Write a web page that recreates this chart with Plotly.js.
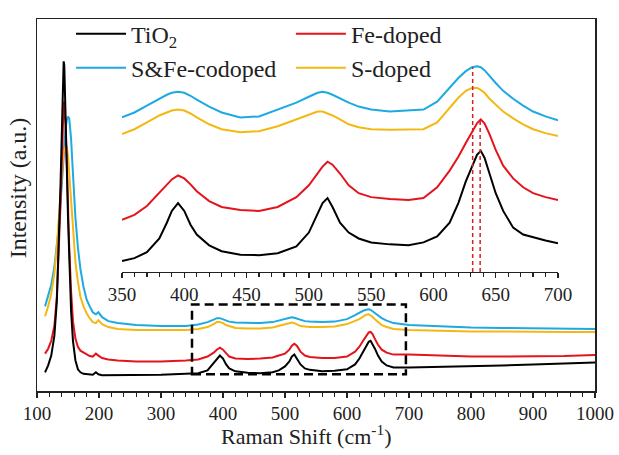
<!DOCTYPE html>
<html>
<head>
<meta charset="utf-8">
<script src="https://cdn.plot.ly/plotly-3.0.1.min.js"></script>
<style>html,body{margin:0;padding:0;background:#fff;}#chart{width:619px;height:455px;}</style>
</head>
<body>
<div id="chart"></div>
<script>
// ---- Main spectrum (arbitrary intensity units, offset stacked as in figure) ----
const ramanShift = [113,118,123,128,132,135,138,140,142,143,144,146,148,150,152,155,158,162,166,170,175,180,185,190,195,199,205,215,230,260,300,340,360,375,385,390,395,400,405,410,420,440,460,480,490,500,507,511,515,519,525,532,540,560,580,600,613,620,626,631,635,638,641,645,650,656,664,675,700,750,800,850,900,950,1000];
const tio2Main = [19,26,36,56,91,141,211,261,316,335,331,291,231,176,131,81,51,31,22,19,17.5,17,16.5,16.5,19,17,16,16,16,16,16.5,17.5,18,21,29,33,36,33,27,23,20,18.5,18,19,21,25,30,35,37,33,27,23,21.5,20,20.5,22,27,33,40,46,50,51,48,43,36,30,26,24,24,24.5,25,26,27,28,29];
const feMain = [38,43,51,66,96,136,191,231,276,294,293,271,231,186,146,101,71,53,45,41,39,37,35.5,35,38,36,33.5,32,31,30,30,31,32,35,39,42,44,42,38,35,33,32.5,33,34,36,38,42,46,48,46,40,36,34.5,33.5,33.5,35,40,45,51,56,59.5,60,58,53,47,42,39,37,37,36,35,35,35,35.5,36.5];
const sfeMain = [86,96,108,126,146,166,191,211,231,241,251,266,275,279,277,256,221,176,146,124,106,93,86,80,78,80,75,71,69,67,66,66,67.5,70,72.5,74,74,73,71.5,70.5,69.5,69,69,70,71.5,73,74.5,75,74.5,73.5,72,71,70.5,70,70.5,73,77,79.5,81.5,82.5,83,82.5,81,79,76.5,74,71.5,69,67,65.5,64.5,64,63.5,63.5,63];
const sMain = [76,86,99,119,146,176,206,224,238,243,245,248,248,239,221,191,161,131,111,96,86,79,74,70,69,72,68,65,63,62,62,62,63,65,68,70,70,69,67,66,64,63.5,63.5,64.5,66,67.5,69,69.5,69,68,66,65.5,65,65,65.5,68,71,73,75.5,77.5,78,77,75.5,73,70,67,65,63,62,61,60.5,60.5,60,60,60];

// ---- Inset (350-700 cm-1 zoom) ----
const insetShift = [350,360,370,380,386,390,395,400,405,410,420,430,445,460,475,490,500,507,511,515,519,525,532,540,550,565,580,592,603,613,620,626,631,635,638,641,645,650,656,664,672,680,690,700];
const tio2Inset = [11,14,20,34,50,62,70,62,48,38,27,21,17.5,17,19,26,40,58,70,75,66,50,40,34,30,28,27,30,36,50,70,92,108,119,123,116,100,80,62,45,38,35,32,29];
const feInset = [53,58,67,80,88,94,98,95,89,82,72,66,63,62,66,76,88,100,107,112,109,100,88,80,76,74,73,75,86,103,117,131,143,151,155,151,140,124,108,95,86,80,76,73];
const sfeInset = [157,162,169,176,180,182,183,182,179,175,168,162,157,158,165,172,178,182,183,182,180,176,172,168,165,163,164,165,173,187,197,204,208,209,208,205,199,192,184,176,169,163,158,154];
const sInset = [140,145,152,159,162,164,165,164,161,157,150,145,142,143,148,155,160,163,163,161,159,155,150,147,145,144.5,144.5,145,152,167,177,184,187,187,185,182,176,170,163,156,150,145,141,138];

// peak-shift guide lines (cm-1) and their tops (inset units)
const shiftLines = [631.5, 637.5];
const shiftTops = [208, 155];
// zoomed window marked on main plot
const boxX = [350, 695];
const boxY = [17, 88];

const names = ['TiO<sub>2</sub>', 'Fe-doped', 'S&Fe-codoped', 'S-doped'];
const colors = ['#000000', '#E3141C', '#1DA9E1', '#F4B813'];
const legendOf = ['legend', 'legend2', 'legend', 'legend2'];
const mainSeries = [tio2Main, feMain, sfeMain, sMain];
const insetSeries = [tio2Inset, feInset, sfeInset, sInset];
const drawOrder = [2, 3, 1, 0];

const FONT = 'Liberation Serif, Times New Roman, serif';
const traces = [];
drawOrder.forEach(i => {
  traces.push({x: ramanShift, y: mainSeries[i], type: 'scatter', mode: 'lines', name: names[i],
    line: {color: colors[i], width: 2}, xaxis: 'x', yaxis: 'y', legendrank: i + 1,
    legend: legendOf[i], legendgroup: 'g' + i});
});
drawOrder.forEach(i => {
  traces.push({x: insetShift, y: insetSeries[i], type: 'scatter', mode: 'lines', name: names[i],
    line: {color: colors[i], width: 2}, xaxis: 'x2', yaxis: 'y2', showlegend: false});
});

const shapes = [
  {type: 'rect', xref: 'x', yref: 'y', x0: boxX[0], x1: boxX[1], y0: boxY[0], y1: boxY[1],
   line: {color: '#000', width: 2.5, dash: '9px,5px'}, fillcolor: 'rgba(0,0,0,0)'}
];
shiftLines.forEach((v, k) => shapes.push({type: 'line', xref: 'x2', yref: 'y2', x0: v, x1: v, y0: 0, y1: shiftTops[k],
  line: {color: '#D42020', width: 1.5, dash: '4px,3px'}}));

const axisCommon = {showgrid: false, zeroline: false, linecolor: '#222', linewidth: 1.5,
  tickcolor: '#222', tickfont: {family: FONT, size: 19, color: '#222'}};
const legendCommon = {orientation: 'v', yanchor: 'top', xanchor: 'left', y: 1.02, tracegroupgap: 0,
  itemwidth: 50, font: {family: FONT, size: 24, color: '#222'}, bgcolor: 'rgba(0,0,0,0)'};

const layout = {
  width: 619, height: 455,
  margin: {l: 37, r: 24, t: 13, b: 64},
  paper_bgcolor: '#fff', plot_bgcolor: 'rgba(0,0,0,0)',
  font: {family: FONT, color: '#222'},
  showlegend: true,
  legend: Object.assign({}, legendCommon, {x: 0.061}),
  legend2: Object.assign({}, legendCommon, {x: 0.455}),
  xaxis: Object.assign({}, axisCommon, {domain: [0, 1], anchor: 'y', range: [100, 1000], mirror: true, showline: true,
    ticks: 'outside', ticklen: 5, tickwidth: 1.5, tick0: 100, dtick: 100,
    minor: {dtick: 20, tick0: 100, ticks: 'outside', ticklen: 4, tickwidth: 1.2, tickcolor: '#222'}}),
  yaxis: Object.assign({}, axisCommon, {domain: [0, 1], anchor: 'x', range: [0, 378], mirror: true, showline: true,
    ticks: '', showticklabels: false}),
  xaxis2: Object.assign({}, axisCommon, {domain: [0.1523, 0.9337], anchor: 'y2', range: [350, 700], showline: true,
    ticks: 'outside', ticklen: 5, tickwidth: 1.5, tick0: 350, dtick: 50,
    minor: {dtick: 10, tick0: 350, ticks: 'outside', ticklen: 4, tickwidth: 1.2, tickcolor: '#222'}}),
  yaxis2: {domain: [0.3201, 1], anchor: 'x2', range: [0, 257], visible: false, showgrid: false, zeroline: false},
  shapes: shapes,
  annotations: [
    {text: 'Raman Shift (cm<sup>-1</sup>)', xref: 'paper', yref: 'paper', x: 0.482, y: -0.119,
     xanchor: 'center', yanchor: 'middle', showarrow: false, font: {family: FONT, size: 22, color: '#222'}},
    {text: 'Intensity (a.u.)', xref: 'paper', yref: 'paper', x: -0.034, y: 0.545, textangle: -90,
     xanchor: 'center', yanchor: 'middle', showarrow: false, font: {family: FONT, size: 24, color: '#222'}}
  ]
};

Plotly.newPlot('chart', traces, layout, {displayModeBar: false, staticPlot: true});
</script>
</body>
</html>
